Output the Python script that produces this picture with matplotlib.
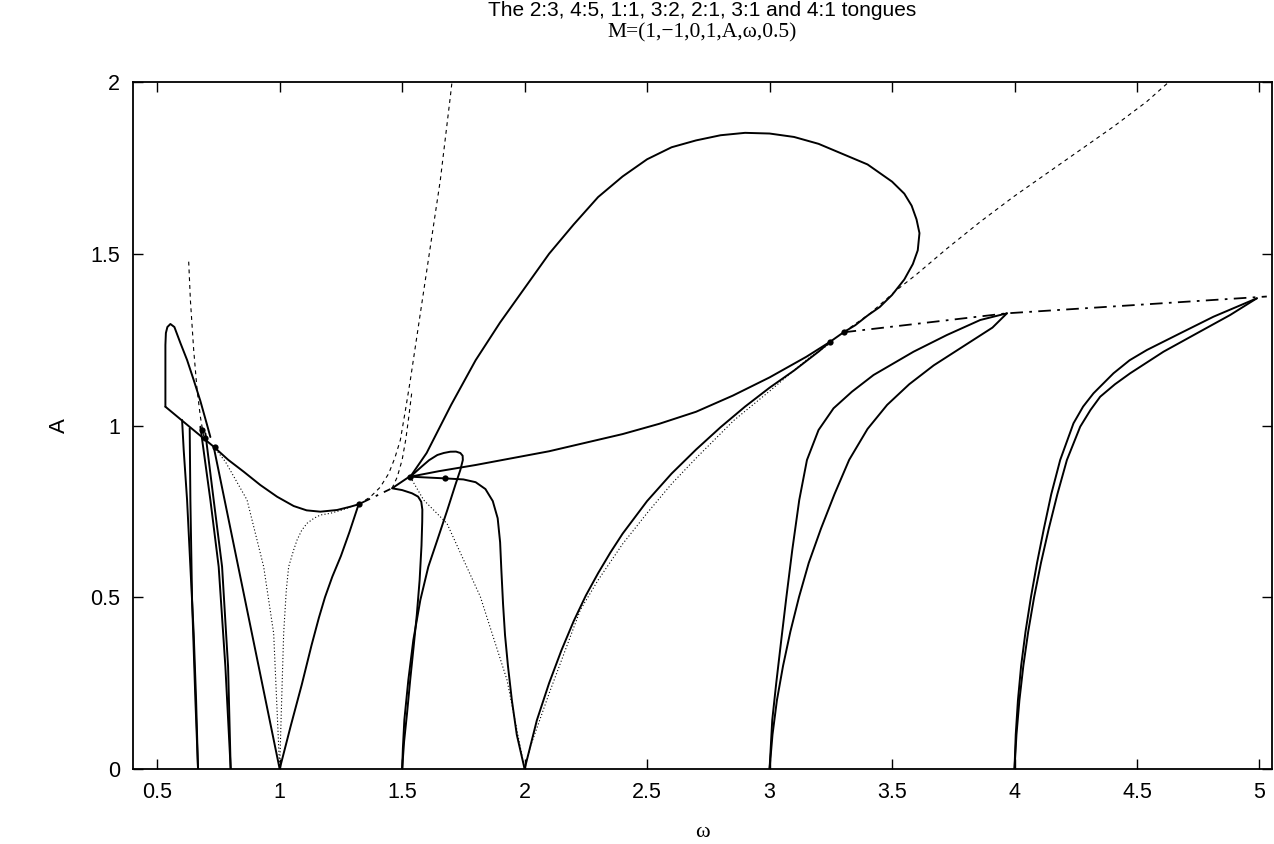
import matplotlib
matplotlib.use("Agg")
import matplotlib.pyplot as plt

# ---------------------------------------------------------------- data
# 2:3 tongue
w23_a = [0.6016, 0.6082, 0.6220, 0.6355, 0.6490, 0.6588, 0.6667]
A23_a = [1.016, 0.9287, 0.7831, 0.5889, 0.3950, 0.2009, 0.0]
w23_b = [0.6327, 0.6355, 0.6424, 0.6559, 0.6667]
A23_b = [0.9919, 0.7831, 0.4920, 0.2009, 0.0]

# 4:5 tongue
w45_a = [0.6763, 0.7171, 0.7510, 0.7784, 0.8000]
A45_a = [0.9965, 0.7831, 0.5889, 0.2978, 0.0]
w45_b = [0.6967, 0.7306, 0.7649, 0.7894, 0.8000]
A45_b = [0.9773, 0.7831, 0.5889, 0.2978, 0.0]

# lobe above the 1:1 tongue
w_lobe = [0.5335, 0.5335, 0.5355, 0.5416, 0.5539, 0.5702, 0.5947, 0.6220,
          0.6490, 0.6763, 0.7037, 0.7171]
A_lobe = [1.0547, 1.2344, 1.2693, 1.2867, 1.2955, 1.2867, 1.2402, 1.1907,
          1.1325, 1.0713, 1.0015, 0.9665]

# edge from the lobe foot through the 1:1 tip region
w_arc = [0.5335, 0.6300, 0.7306, 0.7900, 0.8531, 0.9209, 0.9894, 1.0571,
         1.1100, 1.1661, 1.2343, 1.2886, 1.3224]
A_arc = [1.0547, 0.9975, 0.9383, 0.9000, 0.8655, 0.8268, 0.7927, 0.7656,
         0.7530, 0.7491, 0.7540, 0.7636, 0.7706]

# 1:1 tongue
w11_l = [0.7306, 1.0]
A11_l = [0.9383, 0.0]
w11_r = [1.0, 1.045, 1.090, 1.130, 1.160, 1.185, 1.215, 1.250, 1.285, 1.3224]
A11_r = [0.0, 0.125, 0.245, 0.360, 0.440, 0.500, 0.560, 0.620, 0.690, 0.7706]
w11_in_l = [0.7306, 0.7784, 0.8669, 0.9347, 0.9755, 1.0]
A11_in_l = [0.9383, 0.8946, 0.7831, 0.5889, 0.3950, 0.0]
w11_in_r = [1.0, 1.006, 1.0163, 1.027, 1.0367, 1.0571, 1.0710, 1.0900, 1.1118,
            1.1400, 1.1661, 1.2069, 1.2500, 1.2886]
A11_in_r = [0.0, 0.150, 0.3950, 0.520, 0.5889, 0.6376, 0.6667, 0.6950, 0.7153,
            0.7300, 0.7394, 0.7444, 0.7530, 0.7627]

# 3:2 tongue
w32_l = [1.5335, 1.4588, 1.5000, 1.5404, 1.5650, 1.5780, 1.5825, 1.5820,
         1.5790, 1.5714, 1.5600, 1.5469, 1.5330, 1.5200, 1.5080, 1.5]
A32_l = [0.8530, 0.8172, 0.8120, 0.8026, 0.7930, 0.7780, 0.7550, 0.7200,
         0.6500, 0.5502, 0.4500, 0.3560, 0.2600, 0.1622, 0.0800, 0.0]
w32_r = [1.5, 1.5030, 1.5090, 1.5253, 1.5457, 1.5743, 1.6069, 1.6437, 1.6845,
         1.7171, 1.7376, 1.7478, 1.7470, 1.7376, 1.7200, 1.6967, 1.6700,
         1.6437, 1.6100, 1.5824, 1.5335]
A32_r = [0.0, 0.0600, 0.1426, 0.2591, 0.3755, 0.4920, 0.5889, 0.6667, 0.7540,
         0.8268, 0.8705, 0.8996, 0.9120, 0.9199, 0.9240, 0.9237, 0.9200,
         0.9141, 0.8990, 0.8821, 0.8510]

# 2:1 tongue
w21_l = [1.5335, 1.6760, 1.7500, 1.8000, 1.8400, 1.8700, 1.8900, 1.9000,
         1.9050, 1.9120, 1.9200, 1.9320, 1.9480, 1.9680, 2.0]
A21_l = [0.8510, 0.8460, 0.8430, 0.8350, 0.8150, 0.7800, 0.7300, 0.6600,
         0.5800, 0.4800, 0.3900, 0.3000, 0.2000, 0.1000, 0.0]
w21_r = [2.0, 2.05, 2.10, 2.15, 2.20, 2.25, 2.30, 2.35, 2.40, 2.50, 2.60,
         2.70, 2.80, 2.90, 3.00, 3.10, 3.20, 3.2478]
A21_r = [0.0, 0.142, 0.250, 0.345, 0.430, 0.505, 0.570, 0.630, 0.685, 0.780,
         0.860, 0.930, 0.995, 1.055, 1.110, 1.160, 1.215, 1.244]
w21_in_l = [1.5404, 1.5878, 1.6831, 1.8192, 1.9282, 2.0]
A21_in_l = [0.8413, 0.7831, 0.7147, 0.5017, 0.2591, 0.0]
w21_in_r = [2.0, 2.0233, 2.10, 2.2273, 2.30, 2.40, 2.50, 2.60, 2.70, 2.8544,
            3.00, 3.1661, 3.25]
A21_in_r = [0.0, 0.0649, 0.220, 0.4629, 0.550, 0.655, 0.745, 0.830, 0.905,
            1.015, 1.100, 1.200, 1.240]

# closed loop over the 2:1 tongue
w_loop = [1.5335, 1.60, 1.70, 1.80, 1.90, 2.00, 2.10, 2.20, 2.30, 2.40, 2.50,
          2.60, 2.70, 2.80, 2.90, 3.00, 3.10, 3.20, 3.30, 3.40, 3.50, 3.55,
          3.58, 3.60, 3.612, 3.605, 3.585, 3.55, 3.50, 3.45, 3.40, 3.35,
          3.302, 3.2478, 3.15, 3.00, 2.85, 2.70, 2.55, 2.40, 2.25, 2.10, 1.95,
          1.80, 1.65, 1.5335]
A_loop = [0.851, 0.920, 1.060, 1.190, 1.300, 1.400, 1.500, 1.585, 1.665,
          1.725, 1.775, 1.810, 1.830, 1.845, 1.852, 1.850, 1.840, 1.820,
          1.790, 1.760, 1.710, 1.675, 1.640, 1.600, 1.560, 1.510, 1.470,
          1.425, 1.380, 1.345, 1.320, 1.292, 1.2713, 1.244, 1.200, 1.140,
          1.087, 1.040, 1.005, 0.975, 0.950, 0.925, 0.905, 0.885, 0.867,
          0.851]

# 3:1 tongue
w31_l = [3.0, 3.0110, 3.0273, 3.0478, 3.0682, 3.0927, 3.1212, 3.1527, 3.2000,
         3.2612, 3.3363, 3.4245, 3.5878, 3.7241, 3.8600, 3.9416, 3.9690]
A31_l = [0.0, 0.1426, 0.2504, 0.3755, 0.4978, 0.6376, 0.7831, 0.8996, 0.9869,
         1.0501, 1.0984, 1.1470, 1.2148, 1.2635, 1.3071, 1.3217, 1.3266]
w31_r = [3.0, 3.012, 3.030, 3.055, 3.085, 3.120, 3.160, 3.210, 3.265, 3.325,
         3.400, 3.480, 3.570, 3.670, 3.790, 3.910, 3.969]
A31_r = [0.0, 0.100, 0.200, 0.300, 0.400, 0.500, 0.600, 0.700, 0.800, 0.900,
         0.990, 1.060, 1.120, 1.175, 1.230, 1.285, 1.3266]

# 4:1 tongue
w41_l = [4.0, 4.005, 4.014, 4.027, 4.045, 4.067, 4.092, 4.120, 4.150, 4.1865,
         4.2408, 4.280, 4.3224, 4.4041, 4.470, 4.5404, 4.6763, 4.8122, 4.9894]
A41_l = [0.0, 0.100, 0.200, 0.300, 0.400, 0.500, 0.600, 0.700, 0.800, 0.8996,
         1.0064, 1.055, 1.0937, 1.1520, 1.190, 1.2198, 1.2684, 1.3167, 1.3703]
w41_r = [4.0, 4.008, 4.020, 4.036, 4.056, 4.080, 4.108, 4.140, 4.175, 4.2139,
         4.2682, 4.310, 4.3498, 4.410, 4.4722, 4.6082, 4.7445, 4.8804, 4.9894]
A41_r = [0.0, 0.100, 0.200, 0.300, 0.400, 0.500, 0.600, 0.700, 0.800, 0.8996,
         0.9965, 1.045, 1.0838, 1.120, 1.1520, 1.2148, 1.2684, 1.3217, 1.3703]

# dashed curves
w_d0 = [0.6286, 0.6355, 0.6490, 0.6629, 0.6763, 0.6898]
A_d0 = [1.4769, 1.3654, 1.2198, 1.1034, 1.0256, 0.9674]
w_d1 = [1.3224, 1.370, 1.410, 1.445, 1.470, 1.4927, 1.5135, 1.5335, 1.5743,
        1.6151, 1.6559, 1.6967, 1.7035]
A_d1 = [0.7706, 0.792, 0.820, 0.860, 0.905, 0.9578, 1.045, 1.1325, 1.3266,
        1.5205, 1.7147, 1.9572, 2.0]
w_d2 = [1.4588, 1.480, 1.500, 1.515, 1.528, 1.540]
A_d2 = [0.8172, 0.850, 0.900, 0.960, 1.030, 1.100]
w_d3 = [3.302, 3.411, 3.520, 3.600, 3.724, 3.860, 3.996, 4.132, 4.268, 4.404,
        4.540, 4.630]
A_d3 = [1.2713, 1.3266, 1.395, 1.440, 1.515, 1.593, 1.666, 1.734, 1.802,
        1.870, 1.943, 2.0]

# dash-dot segments joining tongue tips
w_tip1 = [1.3224, 1.4518]
A_tip1 = [0.7706, 0.8150]
w_tip2 = [3.3020, 3.9690, 5.0300]
A_tip2 = [1.2713, 1.3266, 1.3755]

# marked points
w_pts = [0.6833, 0.6967, 0.7376, 1.3224, 1.5335, 1.6760, 3.2478, 3.3020]
A_pts = [0.9869, 0.9627, 0.9383, 0.7706, 0.8510, 0.8460, 1.2440, 1.2713]

x_ticks = [0.5, 1, 1.5, 2, 2.5, 3, 3.5, 4, 4.5, 5]
y_ticks = [0, 0.5, 1, 1.5, 2]

# ---------------------------------------------------------------- figure
W, H = 1274, 844
fig = plt.figure(figsize=(W / 100, H / 100), dpi=100)
L, R, T, B = 132.7, 1271.7, 82, 769
ax = fig.add_axes([L / W, 1 - B / H, (R - L) / W, (B - T) / H])

solid = dict(color="black", lw=1.4, solid_joinstyle="round", solid_capstyle="round")
dotted = dict(color="black", lw=0.8, ls=(0, (1.0, 2.0)))
dashed = dict(color="black", lw=0.8, ls=(0, (3.5, 3.5)))
dashdot = dict(color="black", lw=1.3, ls=(0, (7, 3.5, 1.5, 3.5)))

for w, a in [(w23_a, A23_a), (w23_b, A23_b), (w45_a, A45_a), (w45_b, A45_b),
             (w_lobe, A_lobe), (w_arc, A_arc), (w11_l, A11_l), (w11_r, A11_r),
             (w32_l, A32_l), (w32_r, A32_r), (w21_l, A21_l), (w21_r, A21_r),
             (w_loop, A_loop), (w31_l, A31_l), (w31_r, A31_r),
             (w41_l, A41_l), (w41_r, A41_r)]:
    ax.plot(w, a, **solid)

for w, a in [(w11_in_l, A11_in_l), (w11_in_r, A11_in_r),
             (w21_in_l, A21_in_l), (w21_in_r, A21_in_r)]:
    ax.plot(w, a, **dotted)

for w, a in [(w_d0, A_d0), (w_d1, A_d1), (w_d2, A_d2), (w_d3, A_d3)]:
    ax.plot(w, a, **dashed)

for w, a in [(w_tip1, A_tip1), (w_tip2, A_tip2)]:
    ax.plot(w, a, **dashdot)

ax.plot(w_pts, A_pts, "o", color="black", ms=4.5, mew=0)

ax.set_xlim(0.4, 5.05)
ax.set_ylim(0, 2)
ax.set_xticks(x_ticks)
ax.set_yticks(y_ticks)
ax.set_xticklabels([f"{v:g}" for v in x_ticks])
ax.set_yticklabels([f"{v:g}" for v in y_ticks])

sans = "Liberation Sans"
serif = "Liberation Serif"
ax.tick_params(direction="in", length=7, width=1.0, top=True, right=True,
               labelsize=15.5, pad=9)
for lab in ax.get_xticklabels() + ax.get_yticklabels():
    lab.set_fontfamily(sans)
for s in ax.spines.values():
    s.set_linewidth(1.3)

ax.set_xlabel("ω", fontsize=16, family=serif)
ax.set_ylabel("A", fontsize=16, family=sans, rotation=90)
ax.xaxis.set_label_coords(0.5, -0.078)
ax.yaxis.set_label_coords(-0.055, 0.5)

cx = (L + R) / 2 / W
fig.text(cx, 1 - 11 / H, "The 2:3, 4:5, 1:1, 3:2, 2:1, 3:1 and 4:1 tongues",
         ha="center", va="center", fontsize=15, family=sans)
fig.text(cx, 1 - 32.5 / H, "M=(1,\u22121,0,1,A,ω,0.5)",
         ha="center", va="center", fontsize=15.5, family=serif)

fig.savefig("out.png", dpi=100, facecolor="white")
